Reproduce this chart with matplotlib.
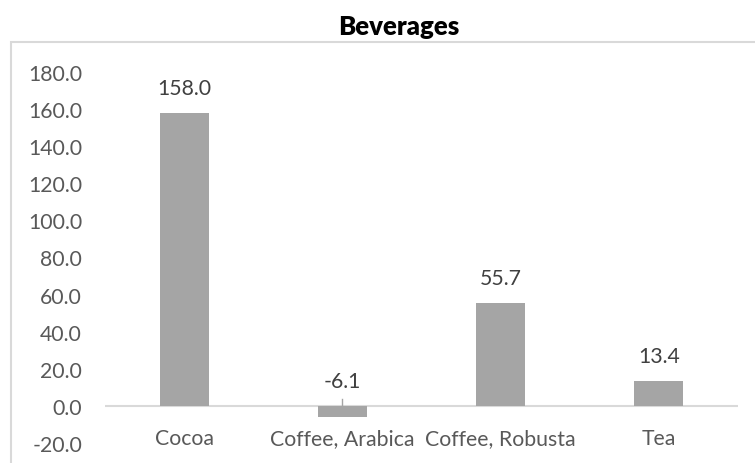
import matplotlib.pyplot as plt
from matplotlib.patches import Rectangle

# Percent change by beverage commodity
categories = ["Cocoa", "Coffee, Arabica", "Coffee, Robusta", "Tea"]
values = [158.0, -6.1, 55.7, 13.4]
yticks = [-20, 0, 20, 40, 60, 80, 100, 120, 140, 160, 180]

BAR_COLOR = "#a5a5a5"
LINE_COLOR = "#d9d9d9"
TICK_COLOR = "#595959"
LABEL_COLOR = "#404040"
FONT = ["Lato", "DejaVu Sans"]

plt.rcParams["font.family"] = FONT

W, H = 755, 464
fig = plt.figure(figsize=(W / 100, H / 100), dpi=100)

# chart frame (runs off the right and bottom edges)
fig.patches.append(Rectangle((11 / W, -0.1), 1.2, 1.1 - 43 / H,
                             transform=fig.transFigure, fill=False,
                             edgecolor=LINE_COLOR, linewidth=1.5))

ax = fig.add_axes([105 / W, 20 / H, 633 / W, 371 / H])
x = range(len(categories))
ax.bar(x, values, width=0.31, color=BAR_COLOR, zorder=2)
ax.axhline(0, color=LINE_COLOR, linewidth=1.5, zorder=1)

ax.set_xlim(-0.5, len(categories) - 0.5)
ax.set_ylim(-20, 180)
ax.set_yticks(yticks)
ax.set_yticklabels([f"{v:.1f}" for v in yticks])
ax.tick_params(axis="y", length=0, pad=16.5, labelsize=15.3, labelcolor=TICK_COLOR)
ax.set_xticks([])
for s in ax.spines.values():
    s.set_visible(False)

# value labels sit above the bar top (or above the baseline for negatives)
off = 13.5
for i, v in enumerate(values):
    y = max(v, 0) + off
    ax.text(i, y, f"{v:.1f}", ha="center", va="center", fontsize=15.3,
            color=LABEL_COLOR)
    if v < 0:
        ax.plot([i, i], [0, 3.5], color=BAR_COLOR, linewidth=1, zorder=3)

for i, c in enumerate(categories):
    ax.text(i, -17.2, c, ha="center", va="center", fontsize=15.3,
            color=TICK_COLOR)

fig.text(399 / W, 1 - 27 / H, "Beverages", ha="center", va="center",
         fontsize=18.5, fontweight="heavy", color="black")

fig.savefig("out.png", dpi=100)
